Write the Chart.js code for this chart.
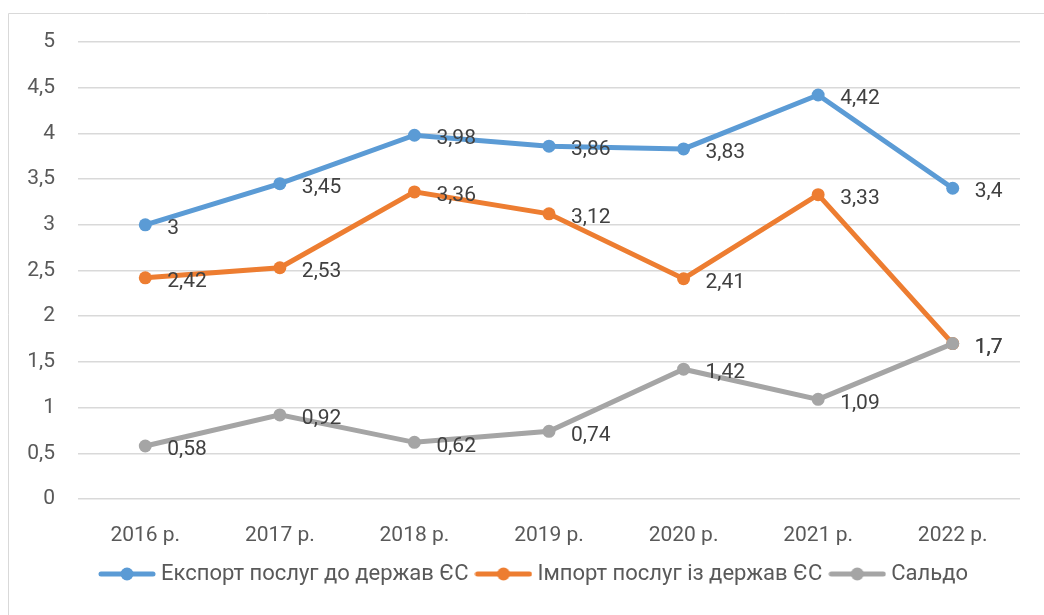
<!DOCTYPE html>
<html>
<head>
<meta charset="utf-8">
<script src="https://cdn.jsdelivr.net/npm/chart.js@4.4.0/dist/chart.umd.min.js"></script>
<style>
  html, body { margin: 0; padding: 0; background: #fff; }
  #wrap { width: 1044px; height: 615px; position: relative; }
</style>
</head>
<body>
<div id="wrap"><canvas id="chart" width="1044" height="615"></canvas></div>
<script>
const categories = ['2016 р.', '2017 р.', '2018 р.', '2019 р.', '2020 р.', '2021 р.', '2022 р.'];
const exportVals = [3, 3.45, 3.98, 3.86, 3.83, 4.42, 3.4];
const importVals = [2.42, 2.53, 3.36, 3.12, 2.41, 3.33, 1.7];
const saldoVals = [0.58, 0.92, 0.62, 0.74, 1.42, 1.09, 1.7];
const seriesNames = ['Експорт послуг до держав ЄС', 'Імпорт послуг із держав ЄС', 'Сальдо'];
const seriesColors = ['#5B9BD5', '#ED7D31', '#A5A5A5'];

const FONT = 'Roboto, "Noto Sans", sans-serif';
const comma = v => String(v).replace('.', ',');

// legend marker: line with a dot in the middle
function markerFor(color) {
    const c = document.createElement('canvas');
    c.width = 58;
    c.height = 16;
    const g = c.getContext('2d');
    g.strokeStyle = color;
    g.lineWidth = 5;
    g.lineCap = 'round';
    g.beginPath();
    g.moveTo(3, 8);
    g.lineTo(55, 8);
    g.stroke();
    g.fillStyle = color;
    g.beginPath();
    g.arc(29, 8, 6.5, 0, Math.PI * 2);
    g.fill();
    return c;
}
const markers = seriesColors.map(markerFor);

const frame = {
    id: 'frame',
    afterLayout(chart) {
        // legend sits a little right of centre in the original
        chart.legend.left += 26;
        chart.legend.right += 26;
    },
    beforeDraw(chart) {
        const ctx = chart.ctx;
        ctx.save();
        ctx.strokeStyle = '#d9d9d9';
        ctx.lineWidth = 1;
        ctx.beginPath();
        ctx.moveTo(8.5, chart.height);
        ctx.lineTo(8.5, 13.5);
        ctx.lineTo(chart.width, 13.5);
        ctx.stroke();
        ctx.restore();
    }
};

const valueLabels = {
    id: 'valueLabels',
    afterDatasetsDraw(chart) {
        const ctx = chart.ctx;
        ctx.save();
        ctx.font = '21px ' + FONT;
        ctx.fillStyle = '#404040';
        ctx.textAlign = 'left';
        ctx.textBaseline = 'middle';
        chart.data.datasets.forEach((ds, i) => {
            const meta = chart.getDatasetMeta(i);
            meta.data.forEach((pt, j) => {
                ctx.fillText(comma(ds.data[j]), pt.x + 22, pt.y + 4);
            });
        });
        ctx.restore();
    }
};

function makeSet(i, data, order) {
    return {
        label: seriesNames[i],
        data: data,
        borderColor: seriesColors[i],
        backgroundColor: seriesColors[i],
        borderWidth: 5,
        pointRadius: 6.5,
        pointHoverRadius: 6.5,
        pointBorderWidth: 0,
        tension: 0,
        order: order
    };
}

new Chart(document.getElementById('chart'), {
    type: 'line',
    data: {
        labels: categories,
        datasets: [
            makeSet(0, exportVals, 3),
            makeSet(1, importVals, 2),
            makeSet(2, saldoVals, 1)
        ]
    },
    options: {
        responsive: false,
        animation: false,
        layout: { padding: { left: 0, right: 24, top: 42, bottom: 20 } },
        scales: {
            x: {
                offset: true,
                grid: { display: false },
                border: { display: false },
                ticks: { color: '#595959', font: { family: FONT, size: 21 }, padding: 16 },
                afterFit: s => { s.height = 52; }
            },
            y: {
                min: 0,
                max: 5,
                grid: { color: '#d9d9d9', lineWidth: 1.5, drawTicks: false },
                border: { display: false },
                ticks: {
                    stepSize: 0.5,
                    color: '#595959',
                    font: { family: FONT, size: 21 },
                    padding: 23,
                    callback: v => comma(v)
                },
                afterFit: s => { s.width = 78; }
            }
        },
        plugins: {
            tooltip: { enabled: false },
            legend: {
                position: 'bottom',
                labels: {
                    color: '#595959',
                    font: { family: FONT, size: 22 },
                    usePointStyle: true,
                    pointStyleWidth: 46,
                    boxHeight: 16,
                    padding: 12,
                    sort: (a, b) => a.datasetIndex - b.datasetIndex,
                    generateLabels(chart) {
                        const items = Chart.defaults.plugins.legend.labels.generateLabels(chart);
                        items.forEach(it => { it.pointStyle = markers[it.datasetIndex]; });
                        return items;
                    }
                }
            }
        }
    },
    plugins: [frame, valueLabels]
});
</script>
</body>
</html>
